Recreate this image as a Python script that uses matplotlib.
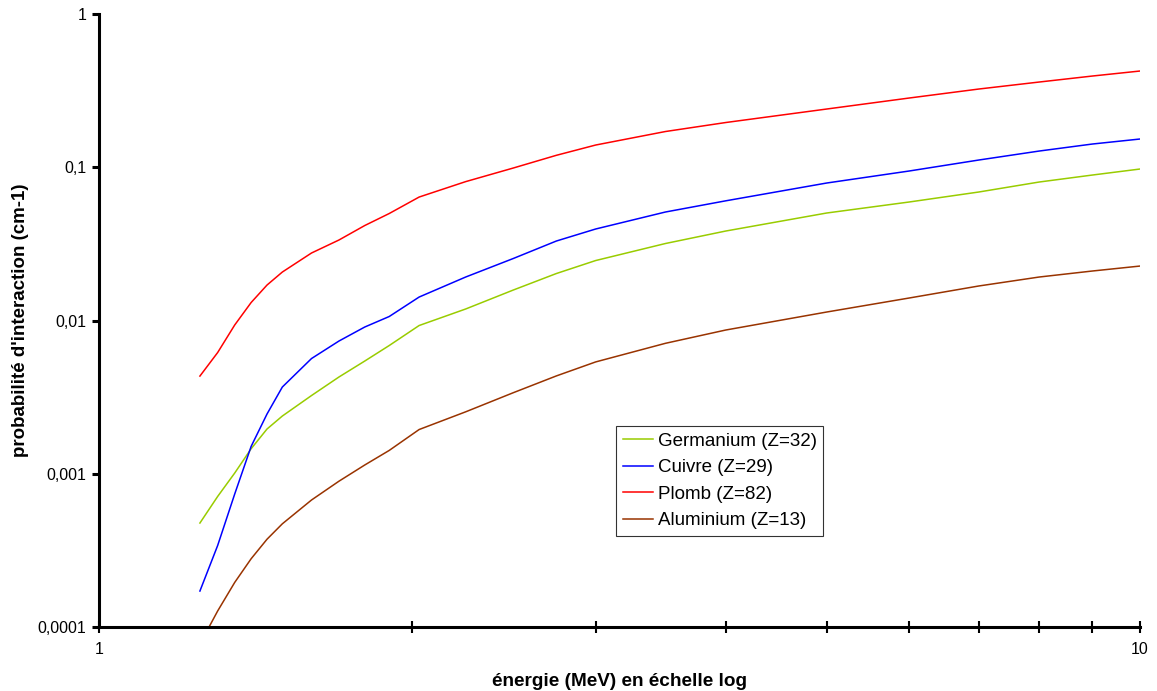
import numpy as np
import matplotlib
matplotlib.use('Agg')
import matplotlib.pyplot as plt
import matplotlib.ticker as ticker

plt.rcParams['font.family'] = ['Liberation Sans', 'DejaVu Sans']

# energies (MeV) and interaction probabilities (cm-1)
energie = [1.25, 1.3, 1.35, 1.4, 1.45, 1.5, 1.6, 1.7, 1.8, 1.9, 2.03, 2.25, 2.5, 2.75,
           3.0, 3.5, 4.0, 5.0, 6.0, 7.0, 8.0, 9.0, 10.0]

germanium = [4.77e-4, 7.11e-4, 1.011e-3, 1.457e-3, 1.959e-3, 2.381e-3, 3.24e-3, 4.279e-3,
             5.44e-3, 6.867e-3, 9.277e-3, 0.01189, 0.01581, 0.02026, 0.02463, 0.0318,
             0.03837, 0.05029, 0.05933, 0.06895, 0.08011, 0.08899, 0.09741]
cuivre = [1.717e-4, 3.402e-4, 7.377e-4, 1.509e-3, 2.454e-3, 3.682e-3, 5.649e-3, 7.346e-3,
          9.07e-3, 0.01062, 0.01423, 0.01922, 0.02539, 0.03302, 0.03956, 0.05105,
          0.06041, 0.07892, 0.09452, 0.1115, 0.1276, 0.1418, 0.1529]
plomb = [4.34e-3, 6.18e-3, 9.35e-3, 0.01311, 0.01704, 0.02072, 0.02758, 0.03352,
         0.04168, 0.04991, 0.06393, 0.0806, 0.09888, 0.1197, 0.1397, 0.1711,
         0.1959, 0.2399, 0.283, 0.324, 0.3599, 0.3939, 0.4247]
aluminium = [7.745e-5, 1.272e-4, 1.954e-4, 2.79e-4, 3.74e-4, 4.715e-4, 6.742e-4, 8.941e-4,
             1.141e-3, 1.42e-3, 1.944e-3, 2.536e-3, 3.38e-3, 4.35e-3, 5.369e-3, 7.099e-3,
             8.67e-3, 0.01136, 0.01402, 0.0168, 0.01922, 0.02104, 0.02267]

series_labels = ['Germanium (Z=32)', 'Cuivre (Z=29)', 'Plomb (Z=82)', 'Aluminium (Z=13)']
series_colors = ['#99CC00', '#0000FF', '#FF0000', '#993300']

y_ticks = [1e-4, 1e-3, 1e-2, 1e-1, 1]
y_tick_labels = ['0,0001', '0,001', '0,01', '0,1', '1']

fig = plt.figure(figsize=(11.57, 6.91), dpi=100)
ax = fig.add_axes([0.0856, 0.0926, 0.8997, 0.8871])

for values, label, color in zip([germanium, cuivre, plomb, aluminium], series_labels, series_colors):
    ax.plot(energie, values, color=color, linewidth=1.1, label=label)

ax.set_xscale('log')
ax.set_yscale('log')
ax.set_xlim(1, 10)
ax.set_ylim(1e-4, 1)

# x axis: labels only at 1 and 10, unlabeled marks at 2..9
ax.xaxis.set_major_locator(ticker.FixedLocator([1, 10]))
ax.xaxis.set_major_formatter(ticker.FixedFormatter(['1', '10']))
ax.xaxis.set_minor_locator(ticker.FixedLocator(list(range(2, 10))))
ax.xaxis.set_minor_formatter(ticker.NullFormatter())

ax.yaxis.set_major_locator(ticker.FixedLocator(y_ticks))
ax.yaxis.set_major_formatter(ticker.FixedFormatter(y_tick_labels))
ax.yaxis.set_minor_locator(ticker.NullLocator())

for side in ['top', 'right']:
    ax.spines[side].set_visible(False)
for side in ['left', 'bottom']:
    ax.spines[side].set_linewidth(2.2)

ax.tick_params(axis='x', which='both', direction='inout', length=8, width=1.5,
               labelsize=11.5, pad=7)
ax.tick_params(axis='y', which='major', direction='out', length=5, width=2.2,
               labelsize=11.5, pad=4)

ax.set_xlabel('énergie (MeV) en échelle log', fontsize=13.7, fontweight='bold', labelpad=11)
ax.set_ylabel("probabilité d'interaction (cm-1)", fontsize=13.5, fontweight='bold', labelpad=6)

leg = ax.legend(loc='upper left', bbox_to_anchor=(0.497, 0.328), fontsize=13.5,
                frameon=True, fancybox=False, shadow=False, handlelength=1.6,
                handletextpad=0.25, borderpad=0.35, labelspacing=0.5, borderaxespad=0)
leg.get_frame().set_edgecolor('black')
leg.get_frame().set_linewidth(0.8)

fig.savefig('out.png', dpi=100)
